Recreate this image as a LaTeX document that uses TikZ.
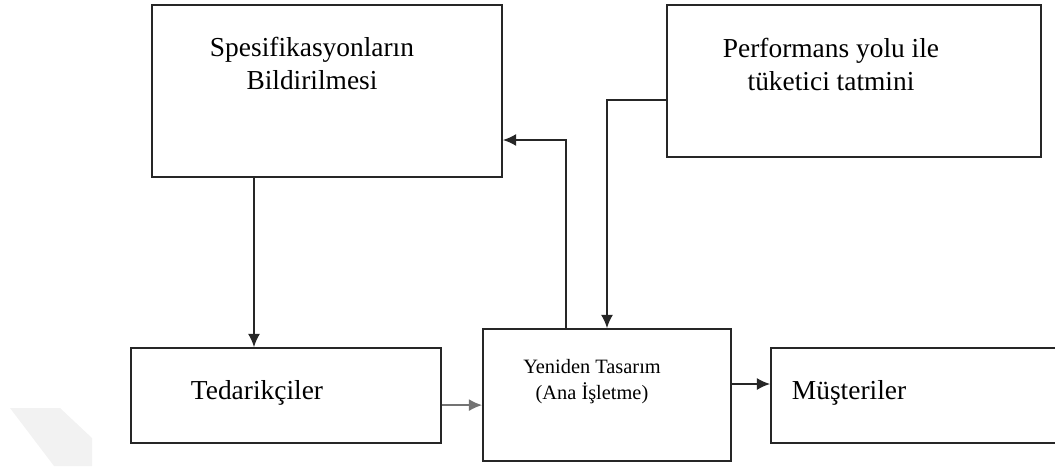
\documentclass[tikz,border=0pt]{standalone}
\usepackage{fontspec}
\setmainfont{Liberation Serif}
\usetikzlibrary{arrows.meta, positioning}

\begin{document}
\begin{tikzpicture}[auto]
    \tikzstyle{block} = [rectangle, draw=black!85, line width=1.3pt, inner sep=0pt]
    \tikzstyle{txt} = [align=center, font=\fontsize{19.5}{23.5}\selectfont]
    \tikzstyle{smalltxt} = [align=center, font=\fontsize{14.5}{18.5}\selectfont]
    \tikzstyle{line} = [draw=black!85, line width=1.1pt, -{Latex[length=0.33cm,width=0.3cm]}]

    \useasboundingbox (0,0) rectangle (26.375,-11.65);
    % faint mark in the corner
    \fill [black!5] (0.25,-10.2) -- (1.5,-10.2) -- (2.3,-10.95) -- (2.3,-11.65) -- (1.35,-11.65) -- cycle;

    \node [block, minimum width=8.75cm, minimum height=4.3cm] (spec) at (8.175,-2.275) {};
    \node [txt, above of=spec, node distance=0.7cm, xshift=-0.375cm] (spectxt) {Spesifikasyonların\\Bildirilmesi};
    \node [block, minimum width=9.35cm, minimum height=3.8cm] (perf) at (21.35,-2.025) {};
    \node [txt, above of=perf, node distance=0.41cm, xshift=-0.575cm] (perftxt) {Performans yolu ile\\tüketici tatmini};
    %
    \node [block, minimum width=7.75cm, minimum height=2.375cm] (ted) at (7.15,-9.8875) {};
    \node [txt, left of=ted, node distance=0.725cm, yshift=0.06cm] (tedtxt) {Tedarikçiler};
    \node [block, right of=ted, node distance=8.025cm, minimum width=6.2cm, minimum height=3.3cm, yshift=0.0125cm] (yen) {};
    \node [smalltxt, above of=yen, node distance=0.325cm, xshift=-0.375cm] (yentxt) {Yeniden Tasarım\\(Ana İşletme)};
    \node [block, right of=yen, node distance=7.775cm, minimum width=7.35cm, minimum height=2.375cm, yshift=-0.0125cm] (mus) {};
    \node [txt, yshift=0.06cm] (mustxt) at ([xshift=1.975cm]mus.west) {Müşteriler};
    %
    \coordinate (s1) at ([xshift=-1.825cm]spec.south);
    \coordinate (s2) at ([yshift=-1.225cm]spec.east);
    \coordinate (y1) at ([xshift=-1.025cm]yen.north);
    \coordinate (t1) at ([yshift=-0.24cm]ted.east);
    \coordinate (p1) at ([yshift=-0.475cm]perf.west);
    \coordinate (y2) at ([yshift=0.275cm]yen.east);
    \path [line] (s1) -- (s1 |- ted.north);
    \path [line, draw=black!55] (t1) -- (t1 -| yen.west);
    \path [line] (y1) |- (s2);
    \path [line] (p1) -| (yen.north);
    \path [line] (y2) -- (y2 -| mus.west);
\end{tikzpicture}
\end{document}
